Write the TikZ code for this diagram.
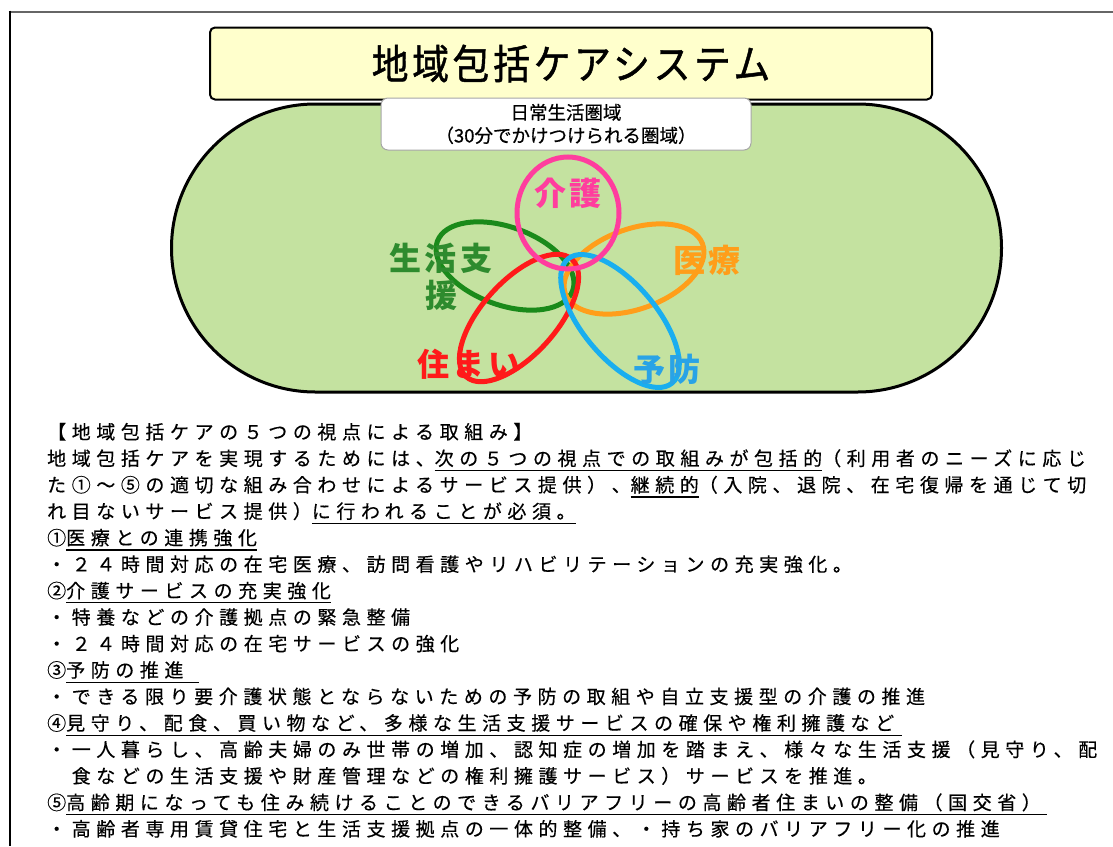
\documentclass[tikz,border=0pt]{standalone}
\usepackage{graphicx}
\usepackage{fontspec}
\setmainfont{Noto Sans CJK JP}
\newfontfamily\jp[FakeBold=0.6]{Noto Sans CJK JP}
\newfontfamily\jpsp[LetterSpace=29.3,FakeBold=0.4]{Noto Sans CJK JP}
\newfontfamily\jplab[LetterSpace=12]{Noto Sans CJK JP}
\newfontfamily\jptitle[LetterSpace=10,FakeBold=1.2]{Noto Sans CJK JP}
\usetikzlibrary{shapes.geometric}
\definecolor{titlefill}{HTML}{FFFFCC}
\definecolor{areafill}{HTML}{C4E2A0}
\definecolor{pinkC}{HTML}{FF3D9E}
\definecolor{greenC}{HTML}{1A8A1A}
\definecolor{greenT}{HTML}{2E8B2E}
\definecolor{orangeC}{HTML}{FF9E1A}
\definecolor{redC}{HTML}{FF1A1A}
\definecolor{blueC}{HTML}{19AEEF}
\definecolor{blueT}{HTML}{29A3E6}
\definecolor{frameC}{HTML}{666666}
\newcommand\myul[2][0pt]{\setbox0\hbox{#2}\rlap{\rule[-5.6pt]{\dimexpr\wd0+#1\relax}{1.3pt}}\box0}
\tikzset{
  body/.style={anchor=base west, inner sep=0pt, font=\jpsp\fontsize{19pt}{19pt}\selectfont},
  lab/.style={inner sep=0pt, font=\jplab\bfseries\fontsize{32pt}{37pt}\selectfont, align=center},
  ring/.style={ellipse, line width=5pt, inner sep=0pt},
}
\begin{document}
\begin{tikzpicture}[x=1pt,y=-1pt]
\useasboundingbox (0,0) rectangle (1113,846);
% frame
\draw[frameC, line width=2pt] (8.5,11.5) -- (1113,11.5);
\draw[black, line width=2pt] (9.5,10.5) -- (9.5,846);
% area
\node[draw=black, line width=3pt, fill=areafill, rounded corners=144pt,
      minimum width=830pt, minimum height=288pt, inner sep=0pt] (area) at (586.5,248) {};
% title
\node[draw=black, line width=2pt, fill=titlefill, rounded corners=5pt,
      minimum width=722pt, minimum height=72pt, inner sep=0pt,
      font=\jptitle\fontsize{40pt}{40pt}\selectfont] (title) at (571,63.5)
      {\scalebox{0.92}[1.02]{地域包括ケアシステム}};
% sub box
\node[draw=black!35, line width=1pt, fill=white, rounded corners=7pt,
      minimum width=370pt, minimum height=52pt, inner sep=0pt, align=center,
      font=\jp\fontsize{18.5pt}{23pt}\selectfont] (sub) at (566,124)
      {日常生活圏域\\（30分でかけつけられる圏域）};
% rings
\node[ring, draw=greenC, minimum width=144pt, minimum height=78pt, rotate=-20] (rgreen) at (505,266) {};
\node[ring, draw=orangeC, minimum width=146pt, minimum height=80pt, rotate=20] (rorange) at (634,269) {};
\node[ring, draw=redC, minimum width=158pt, minimum height=74pt, rotate=48] (rred) at (519,318) {};
\node[ring, draw=blueC, minimum width=162pt, minimum height=74pt, rotate=-50] (rblue) at (620,321) {};
\node[ring, draw=pinkC, minimum width=102pt, minimum height=112pt] (rpink) at (568,213) {};
% labels
\node[lab, text=pinkC] (lkaigo) at (568,193) {介護};
\node[lab, text=greenT] (lseikatsu) at (441,277) {生活支\\援};
\node[lab, text=orangeC] (liryo) at (707,260) {医療};
\node[lab, text=redC] (lsumai) at (469,364) {住まい};
\node[lab, text=blueT] (lyobo) at (667,369) {予防};
% body text
\node[body] (t1) at (47,439) {【地域包括ケアの５つの視点による取組み】};
\node[body] (t2) at (47,465.5) {地域包括ケアを実現するためには、\myul{次の５つの視点での取組みが包括的}（利用者のニーズに応じ};
\node[body] (t3) at (47,492) {た①～⑤の適切な組み合わせによるサービス提供）、\myul{継続的}（入院、退院、在宅復帰を通じて切};
\node[body] (t4) at (47,518.4) {れ目ないサービス提供）\myul{に行われることが必須。}};
\node[body] (t5) at (47,544.9) {①\myul{医療との連携強化}};
\node[body] (t6) at (47,571.4) {・２４時間対応の在宅医療、訪問看護やリハビリテーションの充実強化。};
\node[body] (t7) at (47,597.8) {②\myul{介護サービスの充実強化}};
\node[body] (t8) at (47,624.3) {・特養などの介護拠点の緊急整備};
\node[body] (t9) at (47,650.8) {・２４時間対応の在宅サービスの強化};
\node[body] (t10) at (47,677.2) {③\myul[16pt]{予防の推進}};
\node[body] (t11) at (47,703.7) {・できる限り要介護状態とならないための予防の取組や自立支援型の介護の推進};
\node[body] (t12) at (47,730.2) {④\myul[8pt]{見守り、配食、買い物など、多様な生活支援サービスの確保や権利擁護など}};
\node[body] (t13) at (47,756.6) {・一人暮らし、高齢夫婦のみ世帯の増加、認知症の増加を踏まえ、様々な生活支援（見守り、配};
\node[body] (t14) at (47,783.1) {　食などの生活支援や財産管理などの権利擁護サービス）サービスを推進。};
\node[body] (t15) at (47,809.6) {⑤\myul[6pt]{高齢期になっても住み続けることのできるバリアフリーの高齢者住まいの整備（国交省）}};
\node[body] (t16) at (47,836) {・高齢者専用賃貸住宅と生活支援拠点の一体的整備、・持ち家のバリアフリー化の推進};
\end{tikzpicture}
\end{document}
